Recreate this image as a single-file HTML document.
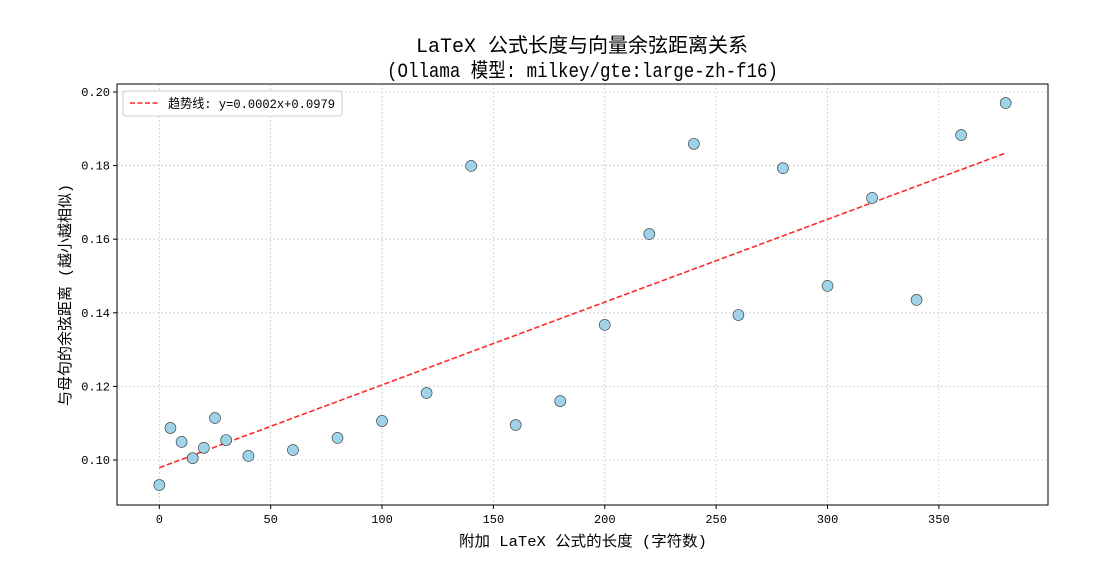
<!DOCTYPE html>
<html><head><meta charset="utf-8"><style>
body{margin:0;background:#fff;}
svg text{font-family:"Liberation Mono","Noto Sans CJK SC",monospace;fill:#000;}
</style></head><body>
<svg id="chart" width="1110" height="583">
<rect width="1110" height="583" fill="#fff"/>
<g id="grid"></g><g id="trend"></g><g id="pts"></g>
<rect x="117" y="84" width="931" height="421" fill="none" stroke="#000" stroke-width="1"/>
<g id="ticks"></g>
<text x="582" y="52" font-size="20" text-anchor="middle">LaTeX 公式长度与向量余弦距离关系</text>
<text x="387" y="77" font-size="20" textLength="391" lengthAdjust="spacingAndGlyphs">(Ollama 模型: milkey/gte:large-zh-f16)</text>
<text x="459" y="546" font-size="15" textLength="248" lengthAdjust="spacingAndGlyphs">附加 LaTeX 公式的长度 (字符数)</text>
<text transform="translate(70,295) rotate(-90)" font-size="15" text-anchor="middle">与母句的余弦距离 (越小越相似)</text>
<g>
<rect x="123" y="91" width="219" height="25" rx="3" fill="#fff" stroke="#ccc"/>
<line x1="130" y1="103" x2="158" y2="103" stroke="#ff2a2a" stroke-width="1.5" stroke-dasharray="5,2.5"/>
<text x="168" y="108" font-size="13" textLength="167" lengthAdjust="spacingAndGlyphs">趋势线: y=0.0002x+0.0979</text>
</g>
</svg>
<script>
const xs=[0,5,10,15,20,25,30,40,60,80,100,120,140,160,180,200,220,240,260,280,300,320,340,360,380];
const ys=[0.0932,0.1087,0.1049,0.1005,0.1033,0.1114,0.1054,0.1011,0.1027,0.1060,0.1106,0.1182,0.1799,0.1095,0.1160,0.1367,0.1614,0.1859,0.1394,0.1793,0.1473,0.1712,0.1435,0.1883,0.1970];
const xTicks=[0,50,100,150,200,250,300,350];
const yTicks=[0.10,0.12,0.14,0.16,0.18,0.20];
const trendSlope=0.000225, trendIntercept=0.0979;
const L=117,R=1048,T=84,B=505,xmin=-19,xmax=399,ymin=0.08777,ymax=0.20217;
const sx=v=>L+(v-xmin)/(xmax-xmin)*(R-L);
const sy=v=>B-(v-ymin)/(ymax-ymin)*(B-T);
const NS='http://www.w3.org/2000/svg';
function mk(tag,attrs,parent){const e=document.createElementNS(NS,tag);for(const k in attrs)e.setAttribute(k,attrs[k]);document.getElementById(parent).appendChild(e);return e;}
xTicks.forEach(t=>{
 const g=mk('line',{x1:sx(t),x2:sx(t),y1:T,y2:B,stroke:'#ccc','stroke-dasharray':'2,2','stroke-width':0.8},'grid');
 
 
 const tk=mk('line',{x1:sx(t),x2:sx(t),y1:B,y2:B+4,stroke:'#000'},'ticks');
 
 
 const tx=mk('text',{x:sx(t),y:B+18,'font-size':12,'text-anchor':'middle'},'ticks');
 tx.textContent=t;
 
 
});
yTicks.forEach(t=>{
 const g=mk('line',{x1:L,x2:R,y1:sy(t),y2:sy(t),stroke:'#ccc','stroke-dasharray':'2,2','stroke-width':0.8},'grid');
 
 
 const tk=mk('line',{x1:L-4,x2:L,y1:sy(t),y2:sy(t),stroke:'#000'},'ticks');
 
 
 const tx=mk('text',{x:L-7,y:sy(t)+4,'font-size':12,'text-anchor':'end'},'ticks');
 tx.textContent=t.toFixed(2);
 
 
});
const x0=xs[0],x1=xs[xs.length-1];
const tl=mk('line',{x1:sx(x0),y1:sy(trendIntercept+trendSlope*x0),x2:sx(x1),y2:sy(trendIntercept+trendSlope*x1),stroke:'#ff2a2a','stroke-width':1.6,'stroke-dasharray':'5.5,2.5'},'trend');


xs.forEach((x,i)=>{
 const c=mk('circle',{cx:sx(x),cy:sy(ys[i]),r:5.5,fill:'#9ed3ea',stroke:'#333','stroke-width':0.6},'pts');
 
 
});
</script>
</body></html>
